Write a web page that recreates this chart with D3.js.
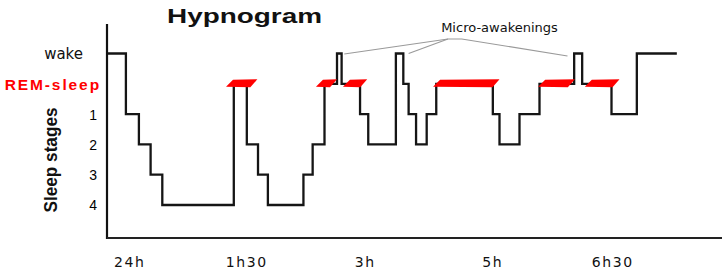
<!DOCTYPE html>
<html>
<head>
<meta charset="utf-8">
<script src="https://cdn.jsdelivr.net/npm/d3@7"></script>
<style>
  html, body { margin: 0; padding: 0; background: #fff; }
  svg { display: block; }
</style>
</head>
<body>
<svg id="chart" width="722" height="270"></svg>
<script>
// ---------- data ----------
const stageNames = ["wake", "REM-sleep", "1", "2", "3", "4"];
// minutes after midnight (24h) at which each stage begins; last entry is end of record
const stepTimes  = [-16, -2, 8, 17, 26, 81, 91, 99.5, 107, 134, 141, 150, 159.5, 163, 177, 184, 210, 217, 222, 229, 239, 248, 301, 306, 321, 336, 362, 368, 390, 409, 439];
const stepStages = ["wake", "1", "2", "3", "4", "REM-sleep", "2", "3", "4", "3", "2", "REM-sleep", "wake", "REM-sleep", "1", "2", "wake", "REM-sleep", "1", "2", "1", "REM-sleep", "1", "2", "1", "REM-sleep", "wake", "REM-sleep", "1", "wake", "wake"];
// REM highlight bars (minutes)
const remStart = [75, 143.5, 164, 245, 335, 370];
const remEnd   = [99, 159.5, 183, 306, 362.5, 396];
// x ticks
const tickMinutes = [0, 90, 180, 300, 390];
const tickLabels  = ["24h", "1h30", "3h", "5h", "6h30"];
// micro-awakening annotation targets (minutes)
const awakeTargets = [165, 222, 357];
const hubMinutes = [259, 272];

// ---------- layout ----------
const svg = d3.select("#chart");
const axisX = 107, axisTop = 24, axisBottom = 238, axisRight = 722;
const tickPx = [128.5, 245.5, 364, 491.5, 611.5];

const x = d3.scaleLinear().domain(tickMinutes).range(tickPx);
const y = d3.scalePoint().domain(stageNames).range([53.5, 205]);

// title
svg.append("text")
  .attr("x", 167).attr("y", 23)
  .attr("font-family", "Liberation Sans, Arial, sans-serif")
  .attr("font-weight", "bold")
  .attr("font-size", 21)
  .attr("textLength", 155)
  .attr("lengthAdjust", "spacingAndGlyphs")
  .attr("fill", "#111")
  .text("Hypnogram");

// y axis title
svg.append("text")
  .attr("transform", "translate(57,160) rotate(-90)")
  .attr("text-anchor", "middle")
  .attr("font-family", "Liberation Sans, Arial, sans-serif")
  .attr("font-weight", "bold")
  .attr("font-size", 18.5)
  .attr("textLength", 105)
  .attr("lengthAdjust", "spacingAndGlyphs")
  .attr("fill", "#111")
  .text("Sleep stages");

// y axis tick labels
const yAxis = d3.axisLeft(y).tickSize(0).tickPadding(0);
const gy = svg.append("g").attr("transform", `translate(${axisX},0)`).call(yAxis);
gy.select(".domain").remove();
gy.selectAll(".tick text").each(function(d) {
  const t = d3.select(this);
  t.attr("text-anchor", "end").attr("dy", "0.35em");
  if (d === "wake") {
    t.attr("x", 83 - axisX).attr("font-family", "DejaVu Sans, sans-serif")
     .attr("font-size", 15).attr("fill", "#111");
  } else if (d === "REM-sleep") {
    t.attr("x", 101 - axisX).attr("font-family", "Liberation Sans, Arial, sans-serif")
     .attr("font-weight", "bold").attr("font-size", 15.5).attr("letter-spacing", 1.9)
     .attr("fill", "#ff0000");
  } else {
    t.attr("x", 97 - axisX).attr("font-family", "Liberation Sans Narrow, Arial Narrow, Liberation Sans, sans-serif")
     .attr("font-size", 14).attr("fill", "#000");
  }
});

// axis lines
svg.append("line")
  .attr("x1", axisX).attr("x2", axisX).attr("y1", axisTop).attr("y2", axisBottom + 1)
  .attr("stroke", "#111").attr("stroke-width", 2.2);
svg.append("line")
  .attr("x1", axisX).attr("x2", axisRight).attr("y1", axisBottom).attr("y2", axisBottom)
  .attr("stroke", "#222").attr("stroke-width", 2);

// x axis tick labels
const xAxis = d3.axisBottom(x).tickValues(tickMinutes).tickFormat((d, i) => tickLabels[i]).tickSize(0).tickPadding(0);
const gx = svg.append("g").attr("transform", `translate(0,${axisBottom})`).call(xAxis);
gx.select(".domain").remove();
gx.selectAll(".tick text")
  .attr("y", 29).attr("dy", 0)
  .attr("dx", 0.8)
  .attr("font-family", "DejaVu Sans, sans-serif")
  .attr("font-size", 14)
  .attr("letter-spacing", 1.6)
  .attr("fill", "#111");

// hypnogram step line
const pts = stepTimes.map((t, i) => [t, stepStages[i]]);
const line = d3.line().x(d => x(d[0])).y(d => y(d[1])).curve(d3.curveStepAfter);
svg.append("path")
  .datum(pts)
  .attr("d", line)
  .attr("fill", "none")
  .attr("stroke", "#151515")
  .attr("stroke-width", 2.3)
  .attr("stroke-linejoin", "miter");

// REM bars
const yr = y("REM-sleep");
svg.selectAll(".rem")
  .data(remStart.map((s, i) => [s, remEnd[i]]))
  .enter().append("path")
  .attr("class", "rem")
  .attr("d", d => {
    const x0 = x(d[0]), x1 = x(d[1]);
    return `M${x0},${yr + 3}L${x0 + 7},${yr - 4}L${x1},${yr - 4.5}L${x1 - 7},${yr + 3.5}Z`;
  })
  .attr("fill", "#ff0000");

// micro-awakenings annotation
const hubY = y("wake") - 14.5;
const hx0 = x(hubMinutes[0]), hx1 = x(hubMinutes[1]);
const ann = svg.append("g").attr("stroke", "#9a9a9a").attr("stroke-width", 1.2).attr("fill", "none");
ann.append("path").attr("d", `M${x(awakeTargets[0])},${y("wake") + 0.5}L${hx0},${hubY}L${hx1},${hubY}L${x(awakeTargets[2])},${y("wake") + 2.5}`);
ann.append("path").attr("d", `M${x(awakeTargets[1])},${y("wake")}L${hx0},${hubY}`);
svg.append("text")
  .attr("x", x(306)).attr("y", 32)
  .attr("text-anchor", "middle")
  .attr("font-family", "DejaVu Sans, sans-serif")
  .attr("font-size", 13)
  .attr("fill", "#111")
  .text("Micro-awakenings");
</script>
</body>
</html>
